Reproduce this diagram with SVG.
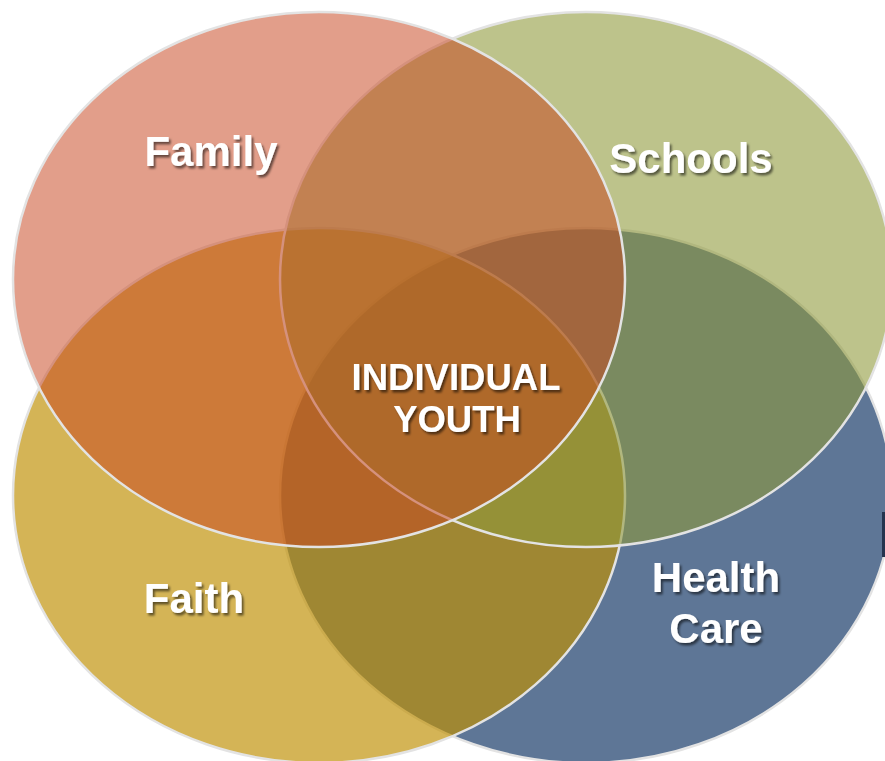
<svg xmlns="http://www.w3.org/2000/svg" width="885" height="761" viewBox="0 0 885 761">
  <defs>
    <filter id="shadow" x="-20%" y="-30%" width="140%" height="160%">
      <feDropShadow dx="2" dy="2.5" stdDeviation="1.3" flood-color="#000000" flood-opacity="0.55"/>
    </filter>
  </defs>
  <style>
    .ring { stroke: #E3E3E3; stroke-width: 2.5; }
    .lbl { font-family: "Liberation Sans", Arial, sans-serif; font-weight: bold; fill: #FFFFFF; text-anchor: middle; filter: url(#shadow); }
    .big { font-size: 42px; }
    .mid { font-size: 36.5px; }
  </style>
  <rect width="885" height="761" fill="#FFFFFF"/>
  <g id="connectors"></g>
  <g id="health-care">
    <ellipse class="ring" cx="586" cy="495.5" rx="306" ry="267.5" fill="#5E7696"/>
  </g>
  <g id="faith">
    <ellipse class="ring" cx="319" cy="495.5" rx="306" ry="267.5" fill="rgb(191,143,3)" fill-opacity="0.67"/>
  </g>
  <g id="schools">
    <ellipse class="ring" cx="586" cy="279.5" rx="306" ry="267.5" fill="rgb(142,153,58)" fill-opacity="0.59"/>
  </g>
  <g id="family">
    <ellipse class="ring" cx="319" cy="279.5" rx="306" ry="267.5" fill="rgb(200,69,31)" fill-opacity="0.52"/>
  </g>
  <g id="labels">
    <text class="lbl big" x="211" y="166">Family</text>
    <text class="lbl big" x="691" y="173">Schools</text>
    <text class="lbl big" x="194" y="613">Faith</text>
    <text class="lbl big" x="716" y="592">Health</text>
    <text class="lbl big" x="716" y="643">Care</text>
  </g>
  <g id="individual-youth">
    <text class="lbl mid" x="456" y="390">INDIVIDUAL</text>
    <text class="lbl mid" x="457" y="432">YOUTH</text>
  </g>
  <rect x="882" y="512" width="3" height="45" fill="#24344F"/>
</svg>
